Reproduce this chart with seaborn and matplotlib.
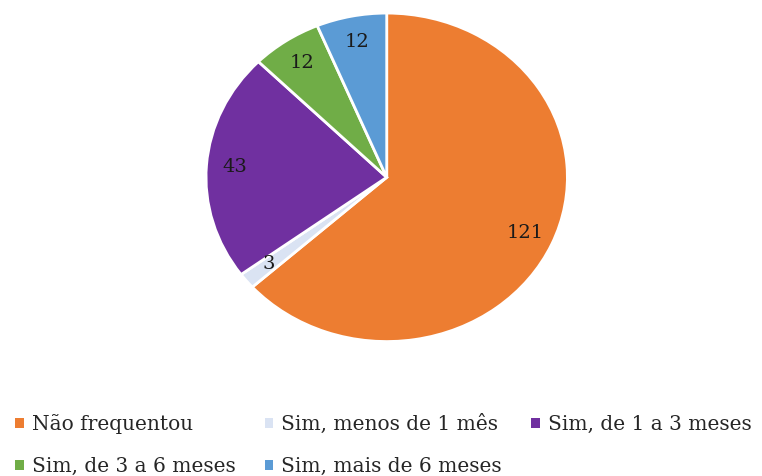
import numpy as np
import seaborn as sns
import matplotlib.pyplot as plt
from matplotlib.patches import Patch

# -----------------
# Data
# -----------------
categories = ["Não frequentou", "Sim, menos de 1 mês", "Sim, de 1 a 3 meses",
              "Sim, de 3 a 6 meses", "Sim, mais de 6 meses"]
counts = [121, 3, 43, 12, 12]
colors = ["#ED7D31", "#DAE3F3", "#7030A0", "#70AD47", "#5B9BD5"]

sns.set_theme(style="white")
plt.rcParams["font.family"] = ["DejaVu Serif"]

total = sum(counts)

fig = plt.figure(figsize=(7.62, 4.76), dpi=100)
# pie area (slightly stretched horizontally, as in the reference)
ax = fig.add_axes([0.268, 0.279, 0.479, 0.697])

wedges, _, autotexts = ax.pie(
    counts, colors=colors, startangle=90, counterclock=False,
    autopct=lambda p: f"{int(round(p * total / 100))}", pctdistance=0.84,
    wedgeprops=dict(edgecolor="white", linewidth=2),
    textprops=dict(fontsize=14, color="#1a1a1a"),
)
ax.set_aspect("auto")
ax.set_xlim(-1.01, 1.01)
ax.set_ylim(-1.01, 1.01)

# legend: two rows, row-major order -> reorder for matplotlib column fill
handles = [Patch(facecolor=c, edgecolor="none") for c in colors]
order = [0, 3, 1, 4, 2]
fig.legend([handles[i] for i in order], [categories[i] for i in order],
           ncol=3, loc="upper left", bbox_to_anchor=(0.02, 0.13),
           frameon=False, fontsize=14.5, handlelength=0.42, handleheight=0.42,
           handletextpad=0.4, columnspacing=1.45, labelspacing=1.15,
           borderaxespad=0, borderpad=0)

fig.savefig("out.png", dpi=100)
